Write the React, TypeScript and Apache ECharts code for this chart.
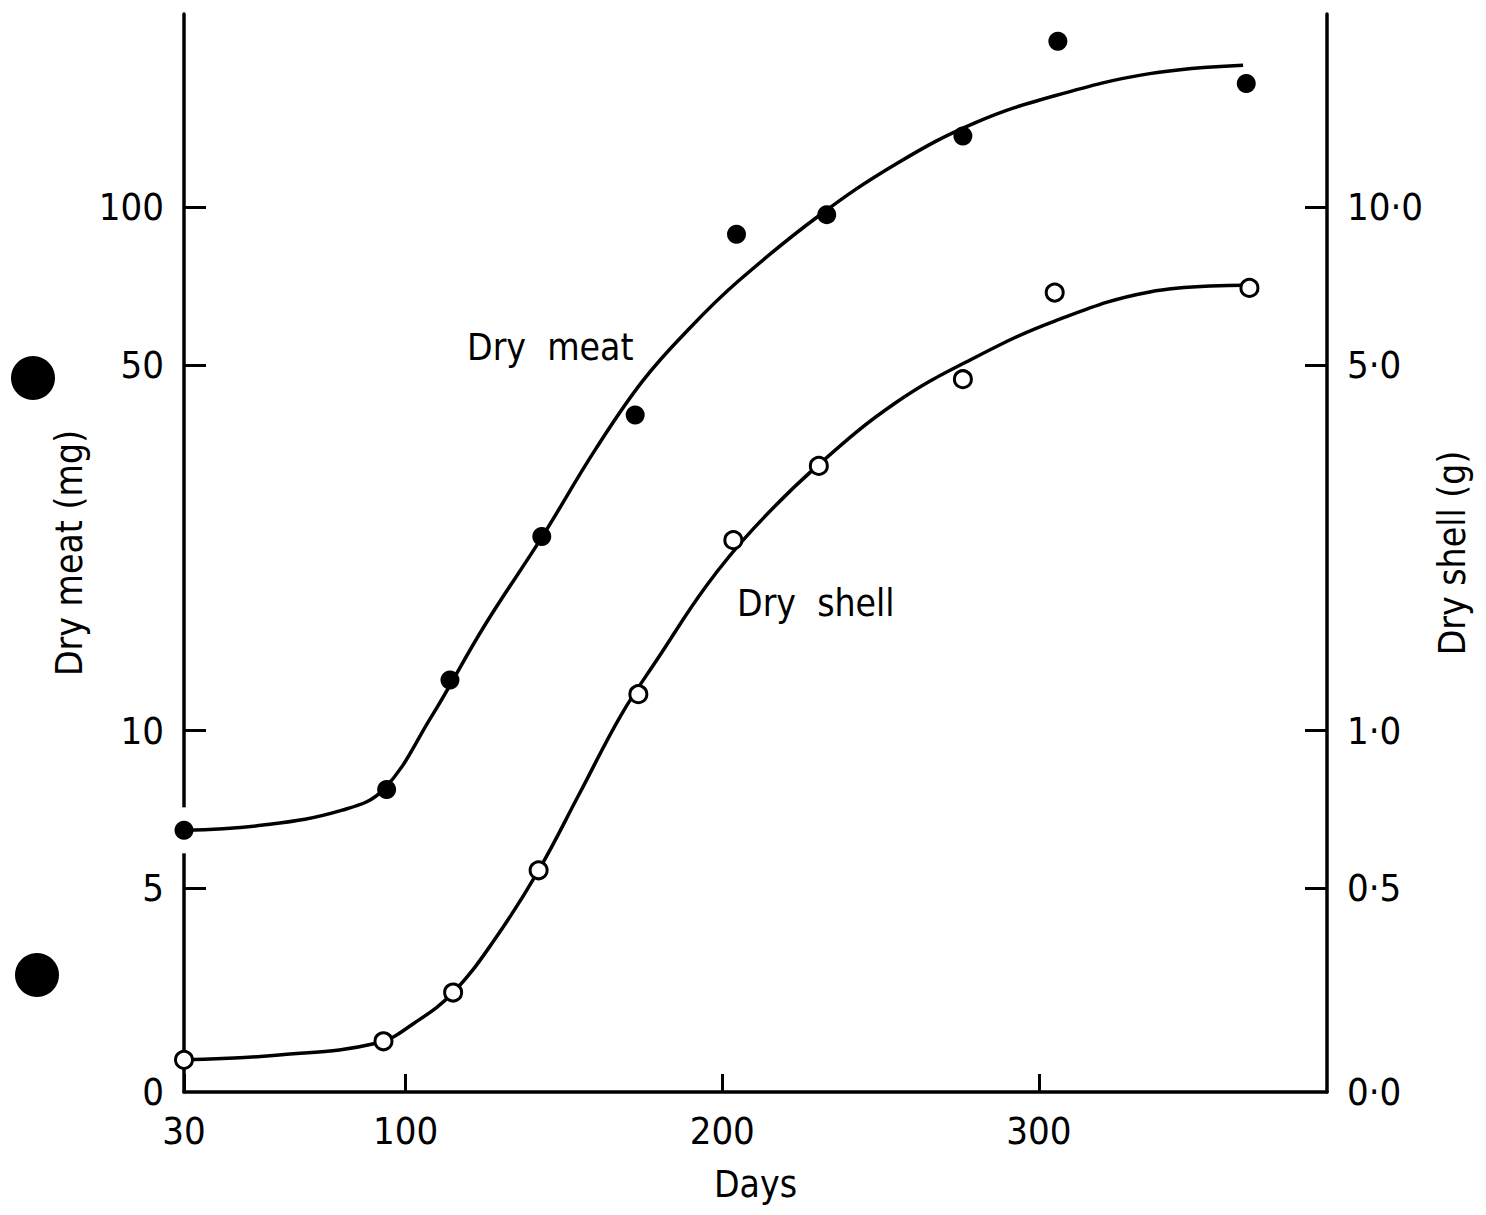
import React, { useEffect, useRef } from "react";
import * as echarts from "echarts";

// Observed sample days
const meatDays = [30, 94, 114, 143, 172.5, 204.5, 233, 276, 306, 365.5];
const shellDays = [30, 93, 115, 142, 173.5, 203.5, 230.5, 276, 305, 366.5];
// Dry meat (mg), filled circles
const dryMeatMg = [6.45, 7.72, 12.5, 23.5, 40.1, 88.8, 96.8, 136.8, 207.6, 172.3];
// Dry shell (g), open circles
const dryShellG = [0.235, 0.255, 0.316, 0.541, 1.174, 2.312, 3.205, 4.693, 6.871, 7.012];

// Fitted curves
const meatCurveDays = [30, 55, 80, 93, 108, 125, 143, 160, 175, 190, 205, 230, 255, 280, 305, 335, 364.5];
const meatCurveMg = [6.45, 6.6, 7.05, 7.72, 10.6, 15.9, 23.4, 34.5, 46.7, 59.0, 72.2, 95.8, 121.1, 145.1, 163.3, 180, 186.8];
const shellCurveDays = [30, 60, 91, 103, 115, 128, 142, 155, 168, 180, 195, 210, 230, 255, 280, 305, 335, 364.5];
const shellCurveG = [0.235, 0.24, 0.253, 0.277, 0.316, 0.398, 0.541, 0.76, 1.07, 1.384, 1.892, 2.437, 3.205, 4.24, 5.17, 6.06, 6.89, 7.096];

// Axes
const xMin = 30;
const xMax = 391;
const xTickValues = [30, 100, 200, 300];
const leftMin = 2.04;
const leftMax = 234;
const leftTickValues = [2.04, 5, 10, 50, 100];
const leftTickLabels = ["0", "5", "10", "50", "100"];
const rightMin = 0.204;
const rightMax = 23.4;
const rightTickValues = [0.204, 0.5, 1, 5, 10];
const rightTickLabels = ["0·0", "0·5", "1·0", "5·0", "10·0"];

const FONT = "'DejaVu Sans Condensed', 'DejaVu Sans', sans-serif";
const lg = (v: number) => Math.log10(v);

function labelFor(values: number[], labels: string[]) {
  return (v: number) => {
    let best = 0;
    let bd = Infinity;
    values.forEach((t, i) => {
      const d = Math.abs(lg(t) - v);
      if (d < bd) {
        bd = d;
        best = i;
      }
    });
    return labels[best];
  };
}

export default function App() {
  const ref = useRef<HTMLDivElement>(null);

  useEffect(() => {
    document.body.style.margin = "0";
    const chart = echarts.init(ref.current!, null, { renderer: "svg" });
    const axisLine = { show: true, onZero: false, lineStyle: { color: "#000", width: 3.5 } };
    const tickStyle = { color: "#000", width: 3 };
    const labelStyle = { color: "#000", fontSize: 38, fontFamily: FONT };
    const nameStyle = { color: "#000", fontSize: 37, fontFamily: FONT };

    const option: any = {
      animation: false,
      backgroundColor: "#fff",
      grid: { left: 184, right: 159, top: 14, bottom: 123, containLabel: false },
      xAxis: {
        type: "value",
        min: xMin,
        max: xMax,
        axisLine,
        splitLine: { show: false },
        axisTick: { show: true, inside: true, length: 18, lineStyle: tickStyle, customValues: xTickValues },
        axisLabel: { ...labelStyle, margin: 20, customValues: xTickValues, showMinLabel: true },
        name: "Days",
        nameLocation: "middle",
        nameGap: 74,
        nameTextStyle: nameStyle,
      },
      yAxis: [
        {
          type: "value",
          position: "left",
          min: lg(leftMin),
          max: lg(leftMax),
          axisLine,
          splitLine: { show: false },
          axisTick: {
            show: true,
            inside: true,
            length: 22,
            lineStyle: tickStyle,
            customValues: leftTickValues.slice(1).map(lg),
          },
          axisLabel: {
            ...labelStyle,
            margin: 20,
            customValues: leftTickValues.map(lg),
            showMinLabel: true,
            formatter: labelFor(leftTickValues, leftTickLabels),
          },
          name: "Dry meat (mg)",
          nameLocation: "middle",
          nameGap: 88,
          nameRotate: 90,
          nameTextStyle: nameStyle,
        },
        {
          type: "value",
          position: "right",
          min: lg(rightMin),
          max: lg(rightMax),
          axisLine,
          splitLine: { show: false },
          axisTick: {
            show: true,
            inside: true,
            length: 22,
            lineStyle: tickStyle,
            customValues: rightTickValues.slice(1).map(lg),
          },
          axisLabel: {
            ...labelStyle,
            margin: 20,
            customValues: rightTickValues.map(lg),
            showMinLabel: true,
            formatter: labelFor(rightTickValues, rightTickLabels),
          },
          name: "Dry shell (g)",
          nameLocation: "middle",
          nameGap: 95,
          nameRotate: 90,
          nameTextStyle: nameStyle,
        },
      ],
      series: [
        {
          type: "line",
          yAxisIndex: 0,
          data: meatCurveDays.map((d, i) => [d, lg(meatCurveMg[i])]),
          smooth: 0.4,
          showSymbol: false,
          lineStyle: { color: "#000", width: 3.5 },
          z: 2,
        },
        {
          type: "line",
          yAxisIndex: 1,
          data: shellCurveDays.map((d, i) => [d, lg(shellCurveG[i])]),
          smooth: 0.4,
          showSymbol: false,
          lineStyle: { color: "#000", width: 3.5 },
          z: 2,
        },
        {
          type: "scatter",
          yAxisIndex: 0,
          data: meatDays.map((d, i) => [d, lg(dryMeatMg[i])]),
          symbol: "circle",
          symbolSize: 19,
          itemStyle: { color: "#000", opacity: 1 },
          z: 5,
        },
        {
          type: "scatter",
          yAxisIndex: 1,
          data: shellDays.map((d, i) => [d, lg(dryShellG[i])]),
          symbol: "circle",
          symbolSize: 17,
          itemStyle: { color: "#fff", borderColor: "#000", borderWidth: 3, opacity: 1 },
          z: 5,
        },
      ],
    };
    chart.setOption(option);

    // Break in the left axis around the first dry-meat point
    const p = chart.convertToPixel({ gridIndex: 0 } as any, [meatDays[0], lg(dryMeatMg[0])]) as number[];
    chart.setOption({
      graphic: [
        { type: "rect", shape: { x: p[0] - 5, y: p[1] - 23, width: 10, height: 46 }, style: { fill: "#fff" }, z: 3 },
        { type: "circle", shape: { cx: 33, cy: 378, r: 22 }, style: { fill: "#000" }, z: 3 },
        { type: "circle", shape: { cx: 37, cy: 975, r: 22 }, style: { fill: "#000" }, z: 3 },
        {
          type: "text",
          x: 467,
          y: 347,
          style: { text: "Dry  meat", fontSize: 37, fontFamily: FONT, fill: "#000", verticalAlign: "middle" },
          z: 6,
        },
        {
          type: "text",
          x: 737,
          y: 603,
          style: { text: "Dry  shell", fontSize: 37, fontFamily: FONT, fill: "#000", verticalAlign: "middle" },
          z: 6,
        },
      ],
    });

    return () => chart.dispose();
  }, []);

  return <div ref={ref} style={{ position: "fixed", left: 0, top: 0, width: 1486, height: 1215 }} />;
}
